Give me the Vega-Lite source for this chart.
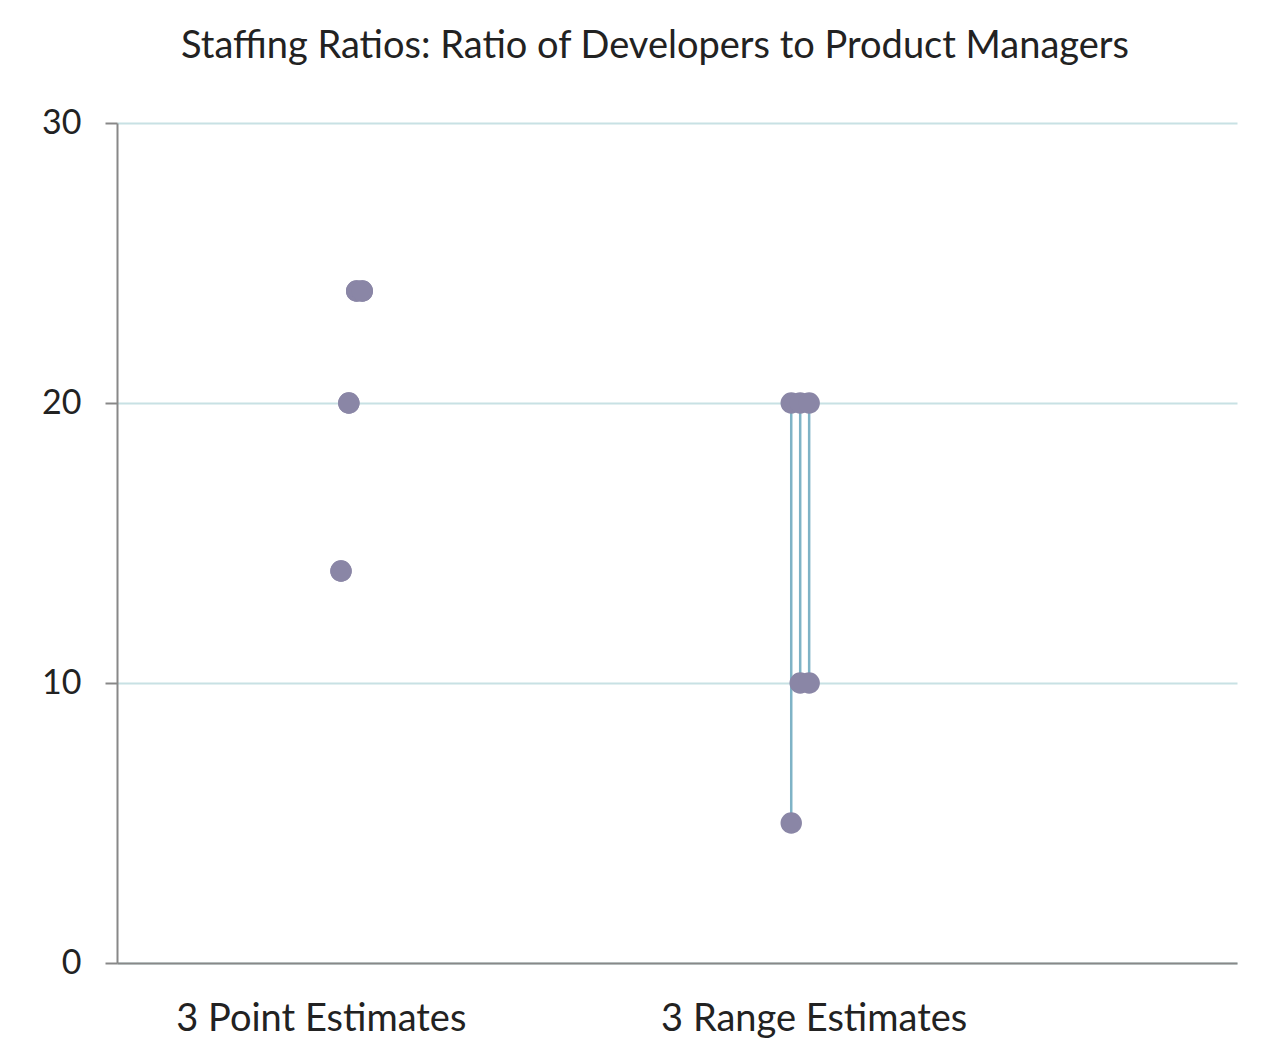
{
  "$schema": "https://vega.github.io/schema/vega-lite/v6.json",
  "autosize": {"type": "none"},
  "padding": {"left": 117, "top": 123, "right": 43, "bottom": 95},
  "width": 1120,
  "height": 840,
  "background": "white",
  "title": {
    "text": "Staffing Ratios: Ratio of Developers to Product Managers",
    "font": "Lato",
    "fontSize": 38,
    "fontWeight": "normal",
    "color": "#222222",
    "anchor": "middle",
    "dx": -22,
    "offset": 40
  },
  "datasets": {
    "estimates": [
      {"kind": "point", "pos": 20.0, "low": 14, "high": 14},
      {"kind": "point", "pos": 20.7, "low": 20, "high": 20},
      {"kind": "point", "pos": 21.4, "low": 24, "high": 24},
      {"kind": "point", "pos": 21.9, "low": 24, "high": 24},
      {"kind": "range", "pos": 60.2, "low": 5, "high": 20},
      {"kind": "range", "pos": 61.0, "low": 10, "high": 20},
      {"kind": "range", "pos": 61.8, "low": 10, "high": 20}
    ]
  },
  "data": {"name": "estimates"},
  "encoding": {
    "x": {
      "field": "pos",
      "type": "quantitative",
      "scale": {"domain": [0, 100], "nice": false},
      "axis": {
        "title": null,
        "grid": false,
        "ticks": false,
        "values": [18.2, 62.2],
        "labelExpr": "datum.value < 40 ? '3 Point Estimates' : '3 Range Estimates'",
        "labelFont": "Lato",
        "labelFontSize": 38,
        "labelLimit": 0,
        "labelColor": "#222222",
        "labelPadding": 37,
        "domainColor": "#888888",
        "domainWidth": 2
      }
    }
  },
  "layer": [
    {
      "transform": [{"filter": "datum.kind == 'range'"}],
      "mark": {"type": "rule", "color": "#7fb3c6", "strokeWidth": 2.5},
      "encoding": {
        "y": {
          "field": "low",
          "type": "quantitative",
          "scale": {"domain": [0, 30], "nice": false},
          "axis": {
            "title": null,
            "values": [0, 10, 20, 30],
            "gridColor": "#c8e1e4",
            "gridWidth": 2,
            "domainColor": "#888888",
            "domainWidth": 2,
            "tickColor": "#888888",
            "tickWidth": 2,
            "tickSize": 12,
            "labelFont": "Lato",
            "labelFontSize": 34,
            "labelColor": "#222222",
            "labelPadding": 24
          }
        },
        "y2": {"field": "high"}
      }
    },
    {
      "transform": [{"fold": ["low", "high"], "as": ["end", "value"]}],
      "mark": {"type": "circle", "size": 460, "opacity": 1, "color": "#8a86a6"},
      "encoding": {
        "y": {"field": "value", "type": "quantitative"}
      }
    }
  ],
  "config": {"view": {"stroke": null}}
}
